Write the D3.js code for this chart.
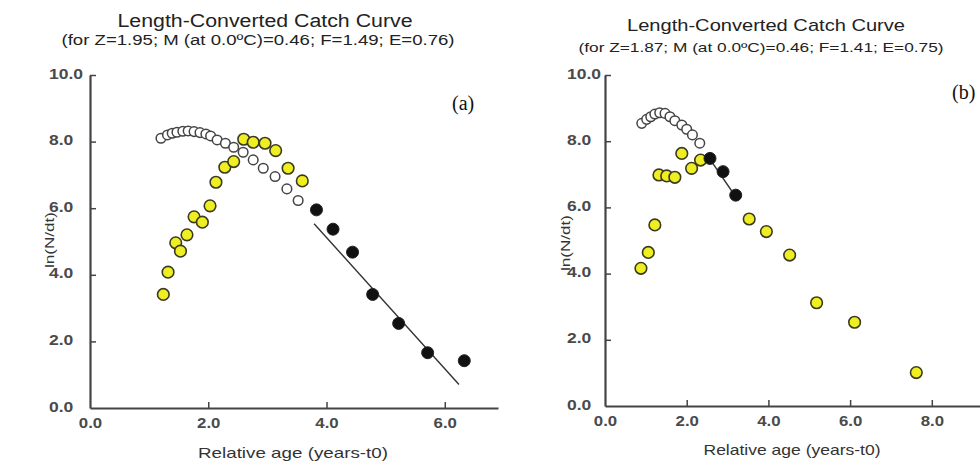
<!DOCTYPE html>
<html><head><meta charset="utf-8">
<script src="https://cdn.jsdelivr.net/npm/d3@7"></script>
<style>html,body{margin:0;padding:0;background:#fff;}svg{display:block;}</style>
</head><body>
<svg id="chart" width="980" height="465"></svg>
<script>
// ---------- DATA ----------
// Panel (a)
const aTitle = "Length-Converted Catch Curve";
const aSubtitle = "(for Z=1.95; M (at 0.0ºC)=0.46; F=1.49; E=0.76)";
const aOpenX = [1.20,1.31,1.39,1.47,1.57,1.66,1.76,1.86,1.96,2.04,2.15,2.29,2.43,2.59,2.76,2.93,3.13,3.33,3.52];
const aOpenY = [8.10,8.20,8.25,8.28,8.31,8.32,8.30,8.27,8.23,8.17,8.05,7.95,7.83,7.68,7.45,7.20,6.95,6.58,6.23];
const aUsedX = [3.83,4.11,4.44,4.78,5.22,5.71,6.33];
const aUsedY = [5.95,5.37,4.68,3.41,2.54,1.66,1.42];
const aYellowX = [1.24,1.32,1.45,1.53,1.64,1.76,1.90,2.03,2.13,2.28,2.43,2.60,2.76,2.96,3.14,3.35,3.59];
const aYellowY = [3.41,4.08,4.96,4.71,5.20,5.74,5.58,6.07,6.78,7.23,7.40,8.07,7.98,7.95,7.73,7.20,6.82];
const aLine = {x0: 3.79, x1: 6.24, intercept: 13.0, slope: -1.97};
const aXTicks = [0, 2, 4, 6];
// Panel (b)
const bTitle = "Length-Converted Catch Curve";
const bSubtitle = "(for Z=1.87; M (at 0.0ºC)=0.46; F=1.41; E=0.75)";
const bOpenX = [0.90,1.02,1.12,1.22,1.34,1.47,1.59,1.71,1.88,2.00,2.14,2.32];
const bOpenY = [8.54,8.66,8.74,8.82,8.86,8.84,8.74,8.62,8.49,8.36,8.19,7.94];
const bUsedX = [2.57,2.89,3.20];
const bUsedY = [7.48,7.08,6.37];
const bYellowX = [0.88,1.06,1.22,1.32,1.51,1.71,1.88,2.12,2.34,3.53,3.95,4.52,5.18,6.11,7.62];
const bYellowY = [4.16,4.64,5.47,6.98,6.95,6.91,7.63,7.18,7.43,5.65,5.27,4.56,3.12,2.53,1.01];
const bLine = {x0: 2.53, x1: 3.22, intercept: 12.08, slope: -1.8};
const bXTicks = [0, 2, 4, 6, 8];
const yTicks = [0, 2, 4, 6, 8, 10];
const xLabel = "Relative age (years-t0)";
const yLabel = "ln(N/dt)";

// ---------- DRAW ----------
const svg = d3.select("#chart");
const fmt = d3.format(".1f");

function panel(cfg) {
  const x = d3.scaleLinear().domain([0, cfg.xMax]).range([cfg.left, cfg.right]);
  const y = d3.scaleLinear().domain([0, 10]).range([cfg.bottom, cfg.top]);
  const g = svg.append("g");

  // titles
  g.append("text").attr("x", cfg.titleX).attr("y", cfg.titleY)
    .attr("text-anchor", "middle").attr("font-family", "Liberation Sans, Arial, sans-serif")
    .attr("font-size", cfg.titleSize).attr("fill", "#222")
    .attr("textLength", cfg.titleLen).attr("lengthAdjust", "spacingAndGlyphs").text(cfg.title);
  g.append("text").attr("x", cfg.subX).attr("y", cfg.subY)
    .attr("text-anchor", "middle").attr("font-family", "Liberation Sans, Arial, sans-serif")
    .attr("font-size", cfg.subSize).attr("fill", "#222")
    .attr("textLength", cfg.subLen).attr("lengthAdjust", "spacingAndGlyphs").text(cfg.subtitle);

  // axes
  const xAxis = d3.axisBottom(x).tickValues(cfg.xTicks).tickSize(-6).tickSizeOuter(0).tickFormat(fmt);
  const gx = g.append("g").attr("transform", `translate(0,${cfg.bottom})`).call(xAxis);
  gx.select(".domain").attr("stroke", "#444").attr("stroke-width", 2.2);
  gx.selectAll(".tick line").attr("stroke", "#444").attr("stroke-width", 1.5);
  gx.selectAll(".tick").filter(d => d === 0).select("line").remove();
  gx.selectAll(".tick text").attr("x", null).attr("y", null).attr("dy", null)
    .attr("transform", "translate(0,20) scale(1.2,1)")
    .attr("font-family", "Liberation Sans, Arial, sans-serif").attr("font-size", 14)
    .attr("font-weight", "bold").attr("fill", "#4a4a4a");

  const yAxis = d3.axisLeft(y).tickValues(yTicks).tickSize(-6).tickSizeOuter(0).tickFormat(fmt);
  const gy = g.append("g").attr("transform", `translate(${cfg.left},0)`).call(yAxis);
  gy.select(".domain").attr("stroke", "#444").attr("stroke-width", 2.2);
  gy.selectAll(".tick line").attr("stroke", "#444").attr("stroke-width", 1.5);
  gy.selectAll(".tick").filter(d => d === 0).select("line").remove();
  gy.selectAll(".tick text").attr("x", null).attr("dy", null)
    .attr("text-anchor", "start")
    .attr("transform", `translate(${cfg.yLabOff},3) scale(1.25,1)`)
    .attr("font-family", "Liberation Sans, Arial, sans-serif").attr("font-size", 14)
    .attr("font-weight", "bold").attr("fill", "#4a4a4a");

  // axis titles
  g.append("text").attr("x", cfg.xLabX).attr("y", cfg.xLabY).attr("text-anchor", "middle")
    .attr("font-family", "Liberation Sans, Arial, sans-serif").attr("font-size", 15).attr("fill", "#333")
    .attr("textLength", cfg.xLabLen).attr("lengthAdjust", "spacingAndGlyphs").text(xLabel);
  g.append("text").attr("transform", `translate(${cfg.yLabX},${cfg.yLabY}) rotate(-90)`)
    .attr("text-anchor", "middle").attr("dy", "0.35em")
    .attr("font-family", "Liberation Sans, Arial, sans-serif").attr("font-size", 13).attr("fill", "#333")
    .attr("textLength", 56).attr("lengthAdjust", "spacingAndGlyphs").text(yLabel);

  // panel letter
  g.append("text").attr("x", cfg.letX).attr("y", cfg.letY)
    .attr("font-family", "Liberation Serif, Times New Roman, serif").attr("font-size", 20).attr("fill", "#111")
    .text(cfg.letter);

  // open circles
  g.append("g").selectAll("circle").data(d3.zip(cfg.openX, cfg.openY)).join("circle")
    .attr("cx", d => x(d[0])).attr("cy", d => y(d[1])).attr("r", 4.8)
    .attr("fill", "#fff").attr("stroke", "#444").attr("stroke-width", 1.5);
  // yellow points
  g.append("g").selectAll("circle").data(d3.zip(cfg.yelX, cfg.yelY)).join("circle")
    .attr("cx", d => x(d[0])).attr("cy", d => y(d[1])).attr("r", 5.8)
    .attr("fill", "#eeee22").attr("stroke", "#3a3a20").attr("stroke-width", 1.6);
  // regression line
  const L = cfg.line;
  g.append("line")
    .attr("x1", x(L.x0)).attr("y1", y(L.intercept + L.slope * L.x0))
    .attr("x2", x(L.x1)).attr("y2", y(L.intercept + L.slope * L.x1))
    .attr("stroke", "#333").attr("stroke-width", 1.4);
  // used (black) points
  g.append("g").selectAll("circle").data(d3.zip(cfg.usedX, cfg.usedY)).join("circle")
    .attr("cx", d => x(d[0])).attr("cy", d => y(d[1])).attr("r", 6)
    .attr("fill", "#111").attr("stroke", "#222").attr("stroke-width", 1);
}

panel({
  left: 90, right: 498, xMax: 6.9, top: 75, bottom: 408, xTicks: aXTicks,
  title: aTitle, titleX: 265, titleY: 27, titleSize: 18, titleLen: 295,
  subtitle: aSubtitle, subX: 258, subY: 45, subSize: 14, subLen: 393,
  yLabOff: -41, xLabX: 293, xLabY: 458, xLabLen: 190, yLabX: 49, yLabY: 240,
  letter: "(a)", letX: 452, letY: 110,
  openX: aOpenX, openY: aOpenY, usedX: aUsedX, usedY: aUsedY, yelX: aYellowX, yelY: aYellowY, line: aLine
});
panel({
  left: 605, right: 989, xMax: 9.4, top: 75, bottom: 406, xTicks: bXTicks,
  title: bTitle, titleX: 766, titleY: 31, titleSize: 17, titleLen: 278,
  subtitle: bSubtitle, subX: 761, subY: 52, subSize: 13, subLen: 365,
  yLabOff: -38, xLabX: 792, xLabY: 455, xLabLen: 177, yLabX: 565, yLabY: 243,
  letter: "(b)", letX: 952, letY: 99,
  openX: bOpenX, openY: bOpenY, usedX: bUsedX, usedY: bUsedY, yelX: bYellowX, yelY: bYellowY, line: bLine
});
</script>
</body></html>
